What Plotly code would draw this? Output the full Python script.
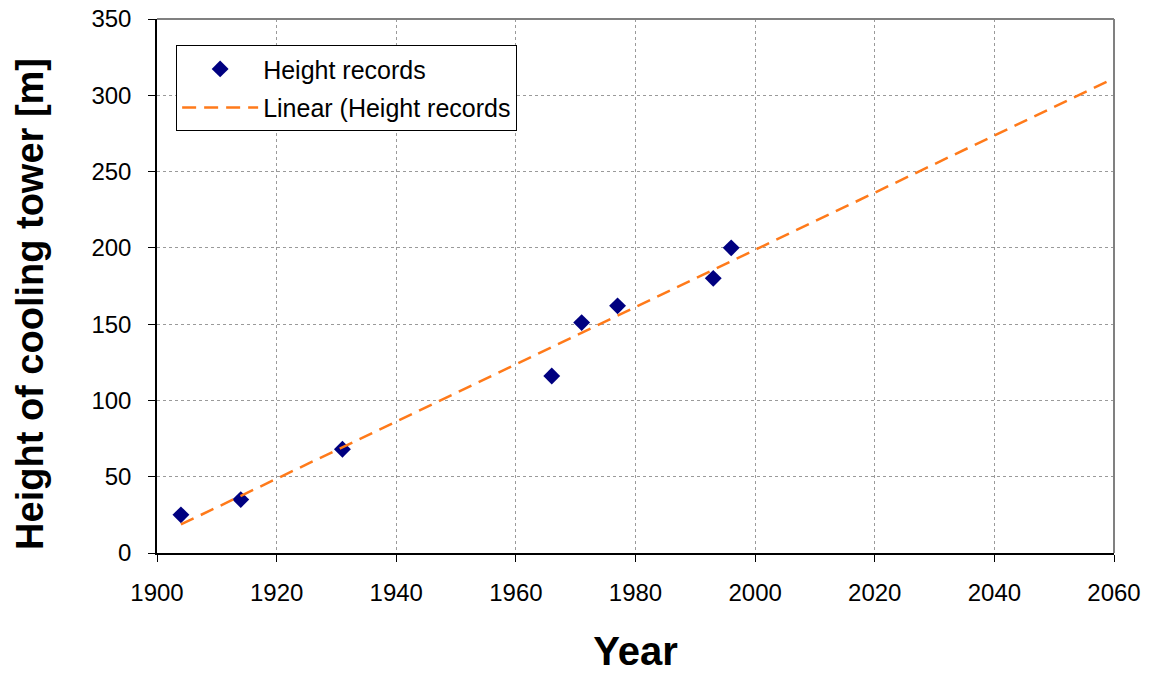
import numpy as np
import plotly.graph_objects as go

# Cooling tower height records
years = [1904, 1914, 1931, 1966, 1971, 1977, 1993, 1996]
heights = [25, 35, 68, 116, 151, 162, 180, 200]

x_ticks = [1900, 1920, 1940, 1960, 1980, 2000, 2020, 2040, 2060]
y_ticks = [0, 50, 100, 150, 200, 250, 300, 350]

# Least-squares linear trend, extended forward to 2060
slope, intercept = np.polyfit(years, heights, 1)
trend_x = np.array([years[0], x_ticks[-1]])
trend_y = slope * trend_x + intercept

FONT = "Arial, Liberation Sans, sans-serif"

fig = go.Figure()
fig.add_trace(go.Scatter(
    x=years, y=heights, mode="markers", name="Height records",
    legendgroup="a",
    marker=dict(symbol="diamond", size=13, color="#000080"),
))
fig.add_trace(go.Scatter(
    x=trend_x, y=trend_y, mode="lines", name="Linear (Height records",
    legendgroup="b",
    line=dict(color="#FF7A1A", width=2.5, dash="14px,8px"),
))

grid = dict(showgrid=True, gridcolor="#9a9a9a", griddash="3px,3px", gridwidth=1)
fig.update_xaxes(
    range=[1900, 2060], tickvals=x_ticks, **grid,
    showline=True, linecolor="black", linewidth=1.5,
    ticks="outside", tickcolor="black", ticklen=7,
    ticklabelstandoff=10,
    tickfont=dict(family=FONT, size=24, color="black"),
    title=dict(text="<b>Year</b>", font=dict(family=FONT, size=40, color="black"), standoff=36),
    zeroline=False, automargin=False,
)
fig.update_yaxes(
    range=[0, 350], tickvals=y_ticks, **grid,
    showline=True, linecolor="black", linewidth=1.5,
    ticks="outside", tickcolor="black", ticklen=7,
    ticklabelstandoff=12,
    tickfont=dict(family=FONT, size=24, color="black"),
    zeroline=False, automargin=False,
)

# Vertical axis title, placed a little below the plot's mid-height
fig.add_annotation(
    text="<b>Height of cooling tower [m]</b>", textangle=-90,
    xref="paper", yref="paper", x=-0.133, y=0.466,
    xanchor="center", yanchor="middle", showarrow=False,
    font=dict(family=FONT, size=38, color="black"),
)

# Grey frame on the top and right edges of the plot area
fig.add_shape(type="line", xref="paper", yref="paper", x0=0, x1=1, y0=1, y1=1,
              line=dict(color="#808080", width=2))
fig.add_shape(type="line", xref="paper", yref="paper", x0=1, x1=1, y0=0, y1=1,
              line=dict(color="#808080", width=2))

fig.update_layout(
    width=1152, height=673,
    margin=dict(l=157, r=38, t=19, b=120),
    paper_bgcolor="white", plot_bgcolor="white",
    showlegend=True,
    legend=dict(
        x=0.02, y=0.951, xanchor="left", yanchor="top",
        bgcolor="white", bordercolor="black", borderwidth=1,
        font=dict(family=FONT, size=25, color="black"),
        tracegroupgap=3, traceorder="grouped", itemwidth=76,
    ),
)

fig.write_html("out.html")
